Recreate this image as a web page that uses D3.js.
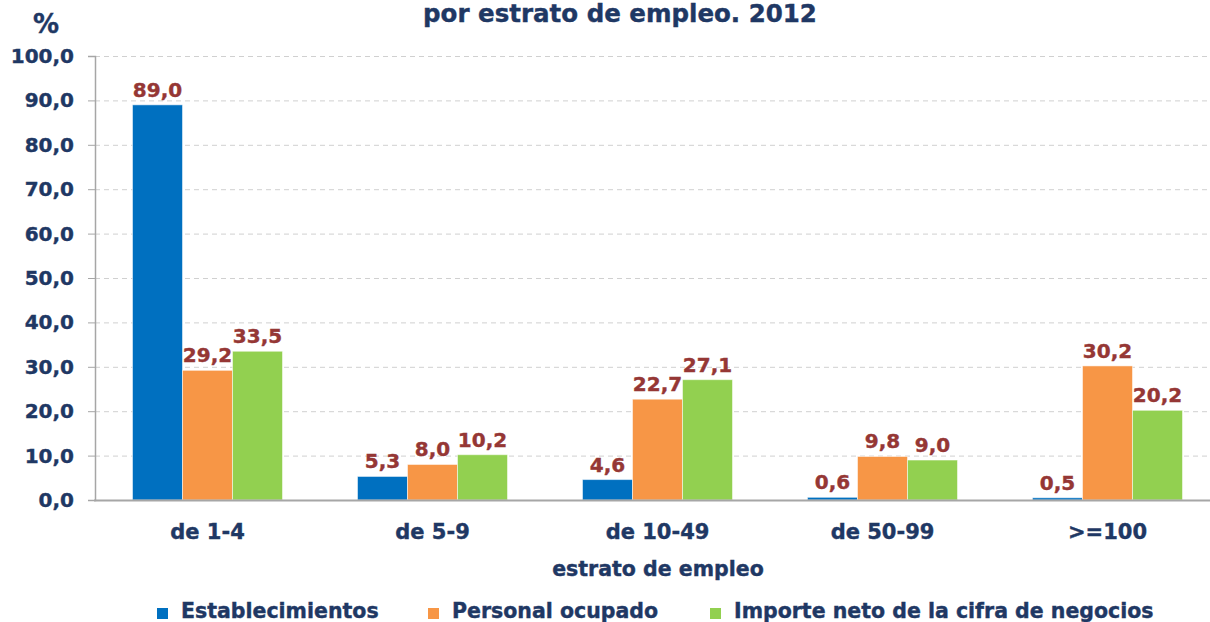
<!DOCTYPE html>
<html>
<head>
<meta charset="utf-8">
<script src="https://cdn.jsdelivr.net/npm/d3@7"></script>
<style>
  body { margin: 0; background: #fff; }
  text { font-family: "DejaVu Sans", Verdana, sans-serif; font-weight: bold; stroke-width: 0.4px; }
</style>
</head>
<body>
<div id="chart"></div>
<script>
var categories = ["de 1-4", "de 5-9", "de 10-49", "de 50-99", ">=100"]
var seriesNames = ["Establecimientos", "Personal ocupado", "Importe neto de la cifra de negocios"]
var establecimientos = [89.0, 5.3, 4.6, 0.6, 0.5]
var personal = [29.2, 8.0, 22.7, 9.8, 30.2]
var importe = [33.5, 10.2, 27.1, 9.0, 20.2]
var yTicks = [0, 10, 20, 30, 40, 50, 60, 70, 80, 90, 100]
var colors = ["#0070C0", "#F79646", "#92D050"]

var width = 1210, height = 622
var navy = "#1F3864"
var labelRed = "#953735"
var fmt = d => d.toFixed(1).replace(".", ",")

var svg = d3.select("#chart").append("svg")
  .attr("width", width)
  .attr("height", height)

var x = d3.scaleBand()
  .domain(categories)
  .range([95, 1220])
  .paddingInner(0)
  .paddingOuter(0)

// three bars of 50px inside each 225px band
var xInner = d3.scaleBand()
  .domain(seriesNames)
  .range([0, x.bandwidth()])
  .paddingOuter(0.75)

var y = d3.scaleLinear()
  .domain([0, 100])
  .range([500, 56])

// grid
svg.append("g")
  .selectAll("line")
  .data(yTicks.slice(1))
  .join("line")
    .attr("x1", 95)
    .attr("x2", width)
    .attr("y1", d => y(d) + 0.5)
    .attr("y2", d => y(d) + 0.5)
    .attr("stroke", "#d0d0d0")
    .attr("stroke-dasharray", "5,4")

// y axis
var yAxis = svg.append("g")
  .attr("transform", "translate(95,0)")
  .call(d3.axisLeft(y).tickValues(yTicks).tickFormat(fmt).tickSize(7).tickPadding(14))
yAxis.select(".domain").attr("stroke", "#a6a6a6").attr("stroke-width", 1.5)
yAxis.selectAll(".tick line").attr("stroke", "#a6a6a6")
yAxis.selectAll("text")
  .attr("fill", navy)
  .attr("stroke", navy)
  .style("font-size", "20px")

var series = [establecimientos, personal, importe]
var rows = []
series.forEach(function(vals, si){
  vals.forEach(function(v, ci){
    rows.push({s: seriesNames[si], c: categories[ci], v: v, color: colors[si]})
  })
})

// bars
svg.append("g")
  .selectAll("rect")
  .data(rows)
  .join("rect")
    .attr("x", d => x(d.c) + xInner(d.s))
    .attr("y", d => y(d.v))
    .attr("width", xInner.bandwidth())
    .attr("height", d => y(0) - y(d.v))
    .attr("fill", d => d.color)
    .attr("stroke", "rgba(255,255,255,0.5)")
    .attr("stroke-width", 1)

// value labels
svg.append("g")
  .selectAll("text")
  .data(rows)
  .join("text")
    .attr("x", d => x(d.c) + xInner(d.s) + xInner.bandwidth() / 2)
    .attr("y", d => y(d.v) - 8)
    .attr("text-anchor", "middle")
    .attr("fill", labelRed)
    .attr("stroke", labelRed)
    .style("font-size", "20px")
    .text(d => fmt(d.v))

// x axis baseline
svg.append("line")
  .attr("x1", 94)
  .attr("x2", width)
  .attr("y1", y(0) + 0.5)
  .attr("y2", y(0) + 0.5)
  .attr("stroke", "#a6a6a6")
  .attr("stroke-width", 2)

// category labels
svg.append("g")
  .selectAll("text")
  .data(categories)
  .join("text")
    .attr("x", d => x(d) + x.bandwidth() / 2)
    .attr("y", 539)
    .attr("text-anchor", "middle")
    .attr("fill", navy)
    .attr("stroke", navy)
    .style("font-size", "21px")
    .text(d => d)

// axis titles
svg.append("text")
  .attr("x", 658)
  .attr("y", 576)
  .attr("text-anchor", "middle")
  .attr("fill", navy)
  .attr("stroke", navy)
  .style("font-size", "20.5px")
  .text("estrato de empleo")

svg.append("text")
  .attr("x", 46)
  .attr("y", 33)
  .attr("text-anchor", "middle")
  .attr("fill", navy)
  .attr("stroke", navy)
  .style("font-size", "26px")
  .text("%")

// title
svg.append("text")
  .attr("x", 620)
  .attr("y", 22)
  .attr("text-anchor", "middle")
  .attr("fill", navy)
  .attr("stroke", navy)
  .style("font-size", "24.5px")
  .text("por estrato de empleo. 2012")

// legend
var legendX = [157, 428, 710]
var legend = svg.append("g")
  .selectAll("g")
  .data(seriesNames)
  .join("g")
    .attr("transform", (d, i) => "translate(" + legendX[i] + ",603)")
legend.append("rect")
  .attr("width", 11)
  .attr("height", 11)
  .attr("y", 5)
  .attr("fill", (d, i) => colors[i])
legend.append("text")
  .attr("x", 24)
  .attr("y", 15)
  .attr("fill", navy)
  .attr("stroke", navy)
  .style("font-size", "20.5px")
  .text(d => d)
</script>
</body>
</html>
